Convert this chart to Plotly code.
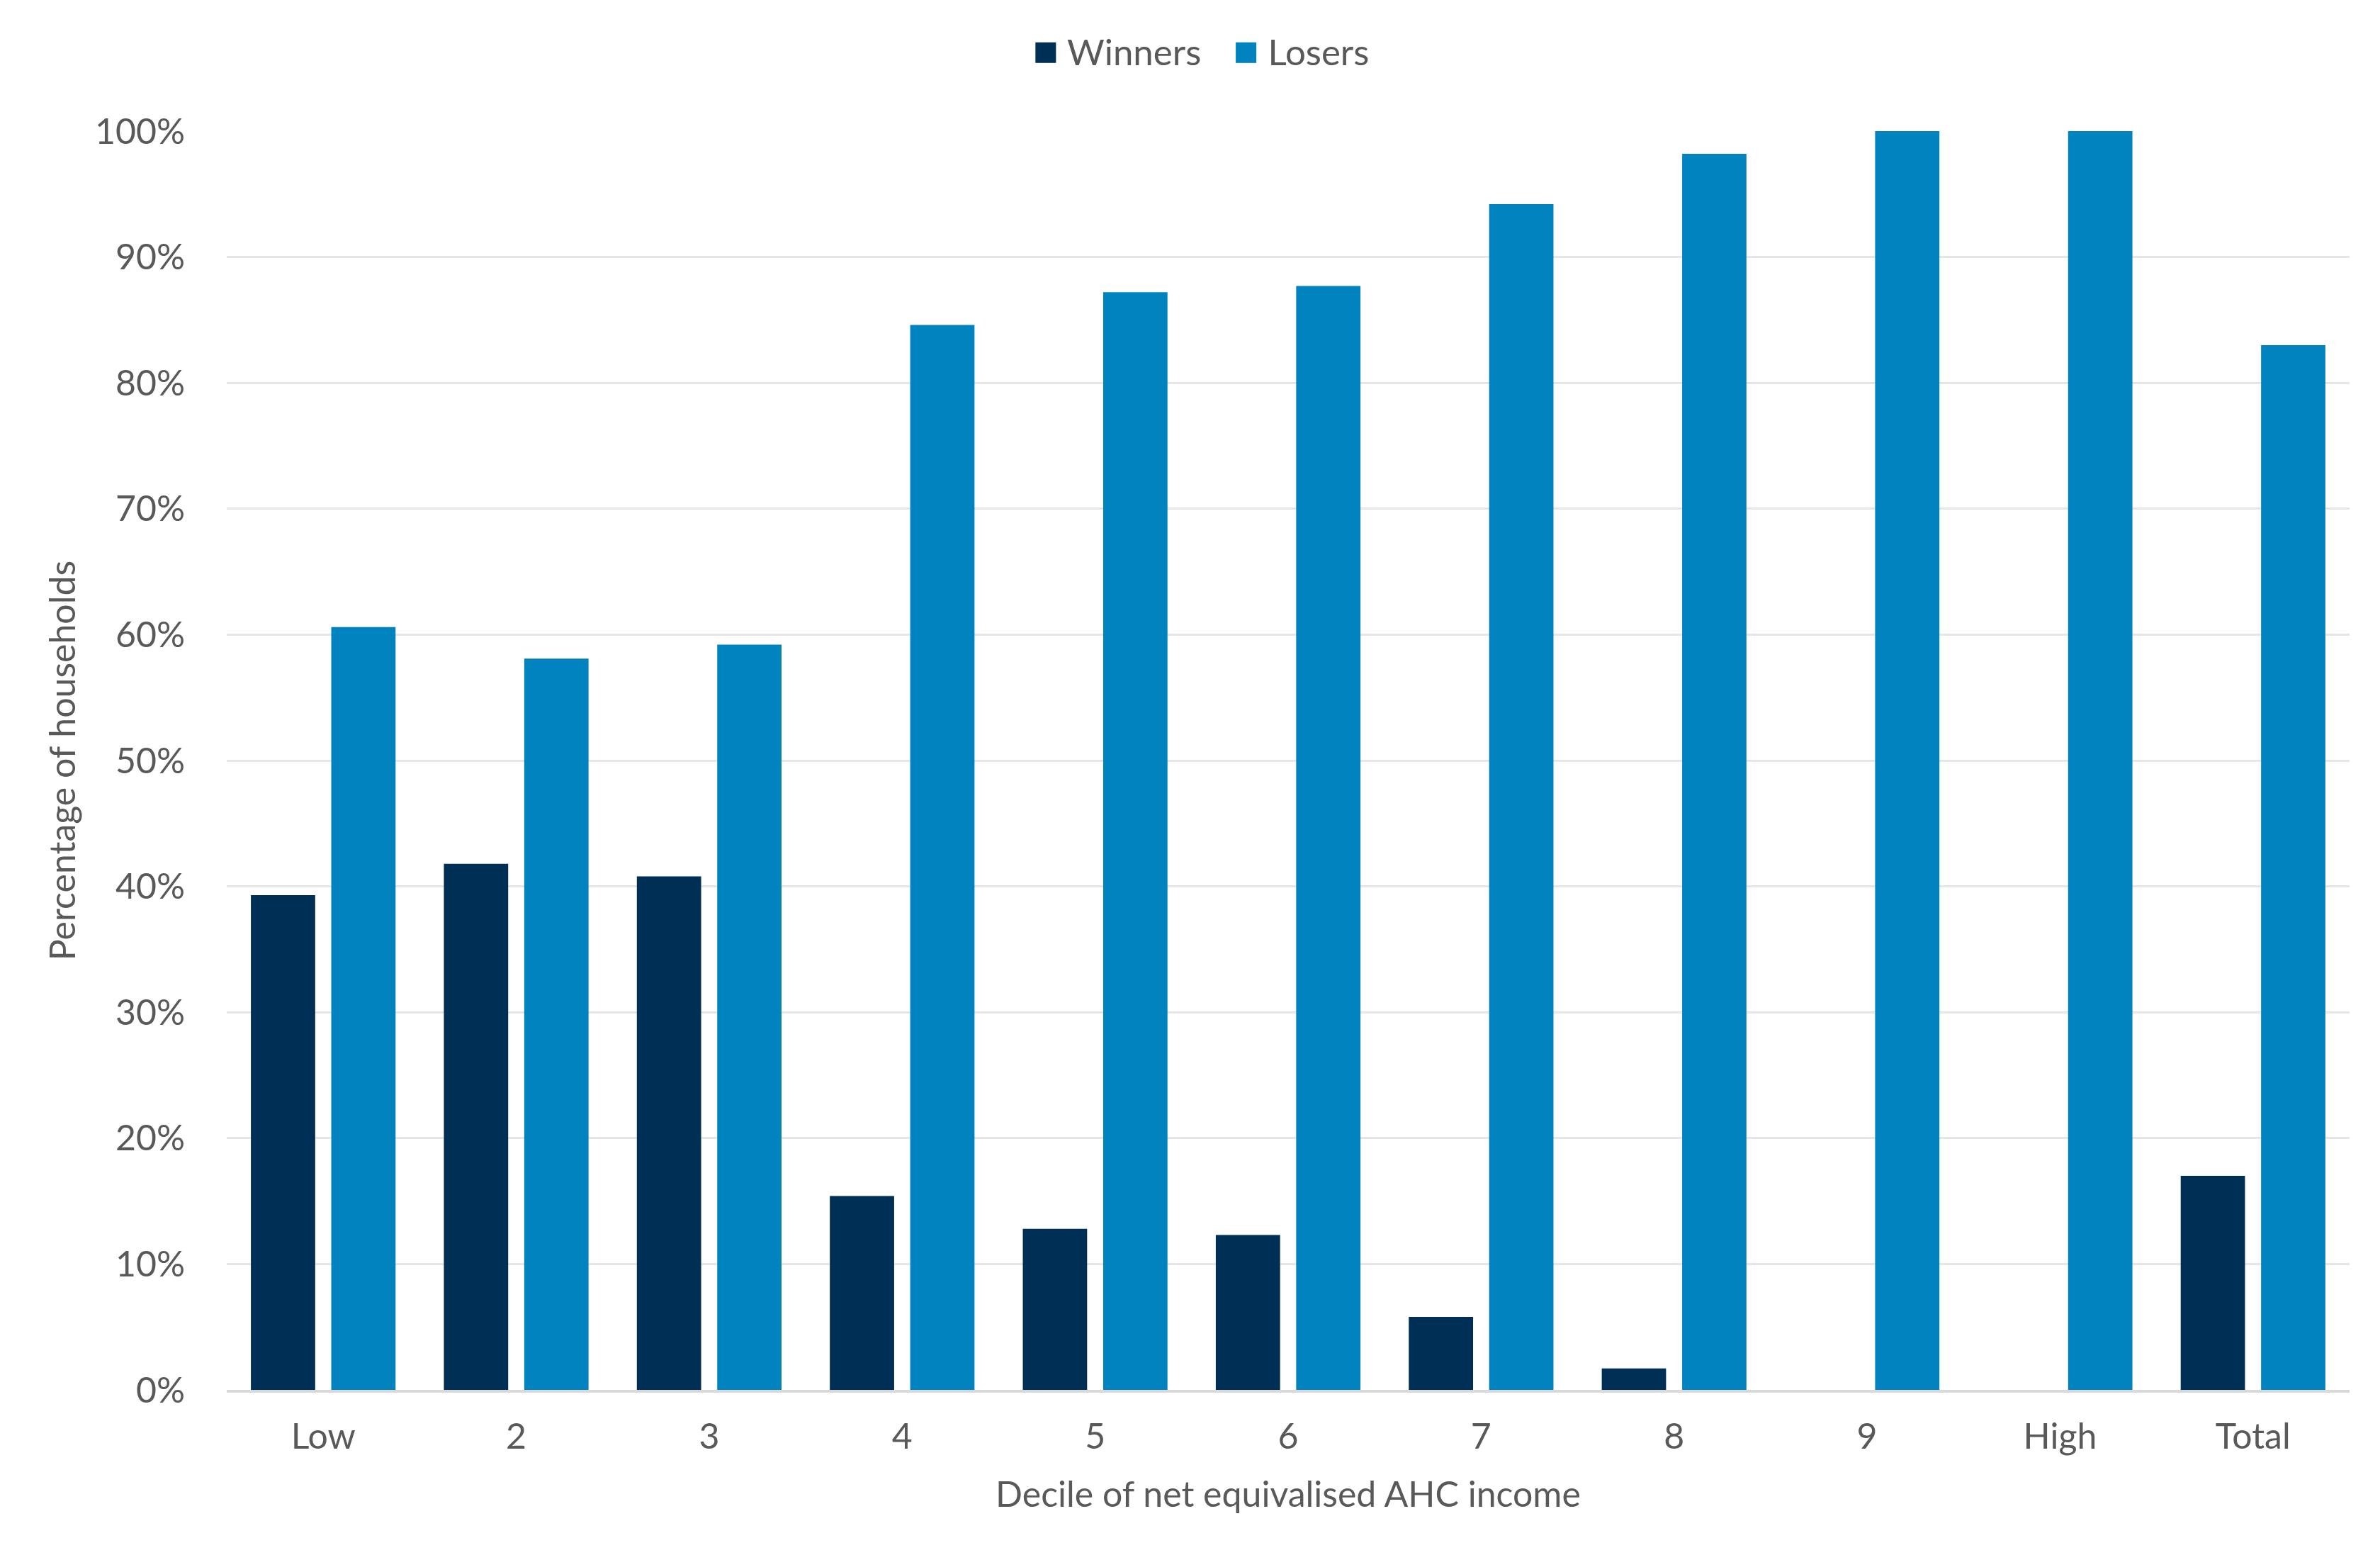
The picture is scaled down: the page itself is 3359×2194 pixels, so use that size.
import plotly.graph_objects as go

categories = ["Low", "2", "3", "4", "5", "6", "7", "8", "9", "High", "Total"]
winners = [0.393, 0.418, 0.408, 0.154, 0.128, 0.123, 0.058, 0.017, 0.0, 0.0, 0.170]
losers = [0.606, 0.581, 0.592, 0.846, 0.872, 0.877, 0.942, 0.982, 1.0, 1.0, 0.830]
series_names = ["Winners", "Losers"]
series_colors = ["#002F56", "#0083BF"]
y_ticks = [0, 0.1, 0.2, 0.3, 0.4, 0.5, 0.6, 0.7, 0.8, 0.9, 1.0]
y_tick_labels = ["0%", "10%", "20%", "30%", "40%", "50%", "60%", "70%", "80%", "90%", "100%"]

FONT = "Lato"
TEXT = "#595959"
FS = 50

fig = go.Figure()
for name, vals, col in zip(series_names, [winners, losers], series_colors):
    fig.add_trace(go.Bar(x=categories, y=vals, name=name, marker=dict(color=col, line=dict(width=0)),
                         showlegend=False))
    # legend entry (no data); square drawn as a coloured glyph in the entry text
    fig.add_trace(go.Scatter(
        x=[None], y=[None], mode="markers",
        name=f'<span style="color:{col};font-size:60px">■</span> {name}',
        marker=dict(symbol="square", size=1, color="rgba(0,0,0,0)")))

fig.update_layout(
    width=3359, height=2194,
    margin=dict(l=312, r=51, t=177, b=241, autoexpand=False),
    paper_bgcolor="white", plot_bgcolor="white",
    font=dict(family=FONT, size=FS, color=TEXT),
    barmode="group", bargap=0.167, bargroupgap=0.20,
    legend=dict(orientation="h", x=0.497, xref="container", xanchor="center", y=0.989, yref="container",
                yanchor="top", font=dict(size=51, color=TEXT), itemwidth=30,
                traceorder="normal"),
    xaxis=dict(
        type="category", showgrid=False, showline=True, linecolor="#D9D9D9", linewidth=4,
        ticks="", ticklabelstandoff=19, tickfont=dict(size=FS, color=TEXT),
        title=dict(text="Decile of net equivalised AHC income", standoff=38,
                   font=dict(size=FS, color=TEXT)),
    ),
    yaxis=dict(
        range=[0, 1.0], tickvals=y_ticks, ticktext=y_tick_labels,
        showgrid=True, gridcolor="#E6E6E6", gridwidth=3, zeroline=False, showline=False,
        ticks="", ticklabelstandoff=58, tickfont=dict(size=FS, color=TEXT),
        title=dict(text="Percentage of households", standoff=11, font=dict(size=FS, color=TEXT)),
    ),
)

fig.write_html("out.html")
